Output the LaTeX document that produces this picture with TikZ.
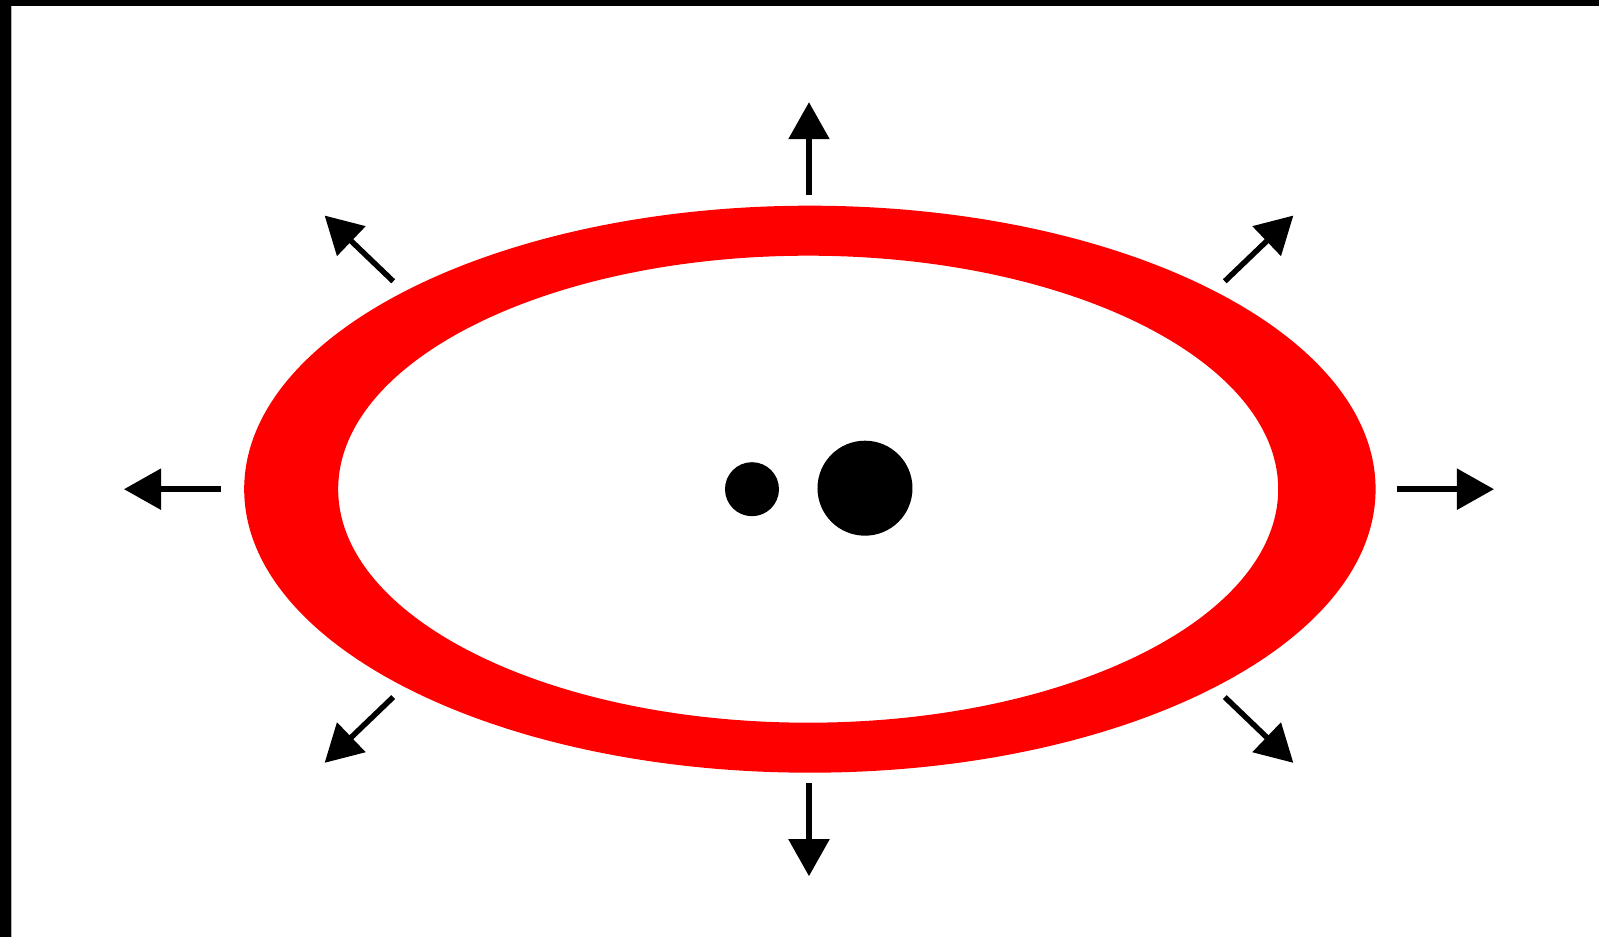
\documentclass[tikz,border=0pt]{standalone}
\usepackage{tikz}
\usetikzlibrary{arrows.meta}

\begin{document}
\begin{tikzpicture}[x=0.01cm, y=0.01cm,
    push/.style={line width=0.055cm, -{Triangle[length=0.37cm, width=0.40cm]}}]
  \useasboundingbox (-809,-447.8) rectangle (790,489.2);

  % frame edges
  \fill[black] (-809,483.2) rectangle (790,489.2);
  \fill[black] (-809,-447.8) rectangle (-798,489.2);
  \fill[black!30] (-798,-447.8) rectangle (-797,483.2);

  % ring
  \fill[red, even odd rule]
    (0.9,0) ellipse [x radius=565.7, y radius=283.5]
    (-0.8,0) ellipse [x radius=470, y radius=233.5];

  % two bodies
  \fill[black] (-57,0) circle [radius=27] coordinate (small);
  \fill[black] (56,1) circle [radius=47.5] coordinate (big);

  % outward arrows
  \foreach \t in {0,45,...,315} {
    \coordinate (s\t) at ({588*cos(\t)},{294*sin(\t)});
    \coordinate (e\t) at ({685*cos(\t)},{387*sin(\t)});
    \draw[push] (s\t) -- (e\t);
  }
\end{tikzpicture}
\end{document}
